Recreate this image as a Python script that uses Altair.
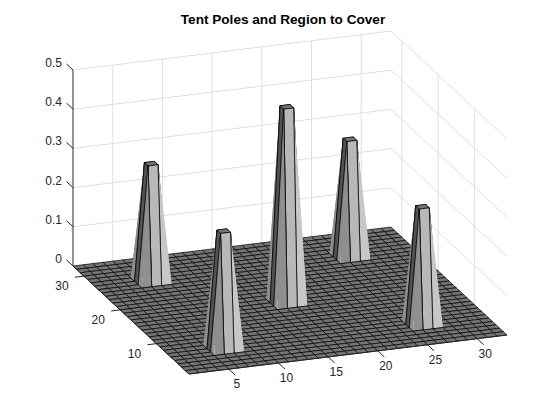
import altair as alt
import numpy as np
import pandas as pd

alt.data_transformers.disable_max_rows()

TITLE = "Tent Poles and Region to Cover"
GRID_N = 33
pole_x = [6, 6, 16, 26, 26]
pole_y = [6, 26, 16, 6, 26]
pole_h = [0.3, 0.3, 0.5, 0.3, 0.3]
x_ticks = [5, 10, 15, 20, 25, 30]
y_ticks = [10, 20, 30]
z_ticks = [0, 0.1, 0.2, 0.3, 0.4, 0.5]
z_labels = ["0", "0.1", "0.2", "0.3", "0.4", "0.5"]
# grey level by the sign of a face's normal in x and y
shades = {
    (0, 0): 0.46, (-1, 0): 0.32, (-1, -1): 0.56, (0, -1): 0.72,
    (1, -1): 0.78, (-1, 1): 0.55, (1, 0): 0.75, (0, 1): 0.5, (1, 1): 0.6,
}

# orthographic view
F = np.array([189.0, 374.0])
UX = np.array([318 / 32, -39 / 32])
UY = np.array([-116 / 32, -108 / 32])
UZ = 392.0


def proj(x, y, z=0.0):
    p = F + (x - 1) * UX + (y - 1) * UY
    return float(p[0]), float(p[1] - z * UZ)


Z = np.zeros((GRID_N + 1, GRID_N + 1))
for px, py, h in zip(pole_x, pole_y, pole_h):
    Z[px : px + 2, py : py + 2] = h


def shade(n):
    key = (int(np.sign(round(n[0], 6))), int(np.sign(round(n[1], 6))))
    v = int(round(shades[key] * 255))
    return f"#{v:02x}{v:02x}{v:02x}"


rows = []
face = 0


def poly(corners, fill, stroke, closed=True):
    global face
    path = corners + corners[:1] if closed else corners
    for k, (a, b) in enumerate(path):
        sx, sy = proj(a, b, Z[a, b])
        rows.append(dict(sx=sx, sy=sy, face=face, k=k, col=fill, st=stroke))
    face += 1


def nearness(v):
    return UX[1] * v[0] + UY[1] * v[1]


for j in range(GRID_N - 1, 0, -1):
    for i in range(GRID_N - 1, 0, -1):
        c = [(i, j), (i + 1, j), (i + 1, j + 1), (i, j + 1)]
        d1 = np.array([1, 1, Z[i + 1, j + 1] - Z[i, j]])
        d2 = np.array([-1, 1, Z[i, j + 1] - Z[i + 1, j]])
        col = shade(np.cross(d1, d2))
        raised = [m for m in range(4) if Z[c[m]] > 0]
        if len(raised) == 1:
            # a folded quad: the nearer triangle hides what lies behind it
            m = raised[0]
            apex, v1, opp, v3 = c[m], c[(m + 1) % 4], c[(m + 2) % 4], c[(m + 3) % 4]
            near, far = (v1, v3) if nearness(v1) > nearness(v3) else (v3, v1)
            poly([apex, far, opp], col, "transparent")
            poly(c, "none", "black")
            poly([apex, near, opp], col, "transparent")
            poly([apex, near, opp], "none", "black", closed=False)
        else:
            poly(c, col, "black")
surf_df = pd.DataFrame(rows)

grid_rows, seg = [], 0


def add(rows_, p0, p1):
    global seg
    rows_.append(dict(sx=p0[0], sy=p0[1], seg=seg, k=0))
    rows_.append(dict(sx=p1[0], sy=p1[1], seg=seg, k=1))
    seg += 1


for z in z_ticks[1:]:
    add(grid_rows, proj(1, 33, z), proj(33, 33, z))
    add(grid_rows, proj(33, 33, z), proj(33, 1, z))
for x in x_ticks:
    add(grid_rows, proj(x, 33, 0), proj(x, 33, 0.5))
for y in y_ticks:
    add(grid_rows, proj(33, y, 0), proj(33, y, 0.5))
grid_df = pd.DataFrame(grid_rows)

axis_rows = []
add(axis_rows, proj(1, 33, 0), proj(1, 33, 0.5))
add(axis_rows, proj(1, 1), proj(1, 33))
add(axis_rows, proj(1, 1), proj(33, 1))
for z in z_ticks:
    add(axis_rows, proj(1, 33, z), proj(1, 34.8, z))
for x in x_ticks:
    add(axis_rows, proj(x, 1), proj(x, -0.8))
for y in y_ticks:
    add(axis_rows, proj(1, y), proj(0.1, y))
axis_df = pd.DataFrame(axis_rows)

xs = alt.X("sx:Q", scale=alt.Scale(domain=[8, 552], nice=False, zero=False), axis=None)
ys = alt.Y("sy:Q", scale=alt.Scale(domain=[412, 8], nice=False, zero=False), axis=None)

grid = alt.Chart(grid_df).mark_line(color="#dfdfdf", strokeWidth=1).encode(
    x=xs, y=ys, detail="seg:N", order="k:Q"
)
surface = alt.Chart(surf_df).mark_line(strokeWidth=0.7, strokeJoin="round").encode(
    x=xs, y=ys, detail="face:Q", order="k:Q",
    fill=alt.Fill("col:N", scale=None),
    stroke=alt.Stroke("st:N", scale=None),
)
axes = alt.Chart(axis_df).mark_line(color="#262626", strokeWidth=1).encode(
    x=xs, y=ys, detail="seg:N", order="k:Q"
)

tx = pd.DataFrame([dict(sx=proj(x, 1)[0], sy=proj(x, 1)[1], t=str(x)) for x in x_ticks])
ty = pd.DataFrame([dict(sx=proj(1, y)[0], sy=proj(1, y)[1], t=str(y)) for y in y_ticks])
tz = pd.DataFrame(
    [dict(sx=proj(1, 33, z)[0], sy=proj(1, 33, z)[1], t=t) for z, t in zip(z_ticks, z_labels)]
)
FONT = "Liberation Sans"
lab_x = alt.Chart(tx).mark_text(font=FONT, fontSize=12, color="#262626", dx=8, dy=15).encode(x=xs, y=ys, text="t:N")
lab_y = alt.Chart(ty).mark_text(font=FONT, fontSize=12, color="#262626", dx=-22, dy=10).encode(x=xs, y=ys, text="t:N")
lab_z = alt.Chart(tz).mark_text(font=FONT, fontSize=12, color="#262626", align="right", dx=-11, dy=-7).encode(x=xs, y=ys, text="t:N")
title = alt.Chart(pd.DataFrame([dict(sx=283, sy=20, t=TITLE)])).mark_text(
    font=FONT, fontSize=13.6, fontWeight="bold", color="black"
).encode(x=xs, y=ys, text="t:N")

chart = (
    alt.layer(grid, surface, axes, lab_x, lab_y, lab_z, title)
    .properties(width=544, height=404, padding=0, background="white")
    .configure_view(stroke=None)
)
chart.save("out.html", embed_options={"renderer": "svg", "actions": False})
